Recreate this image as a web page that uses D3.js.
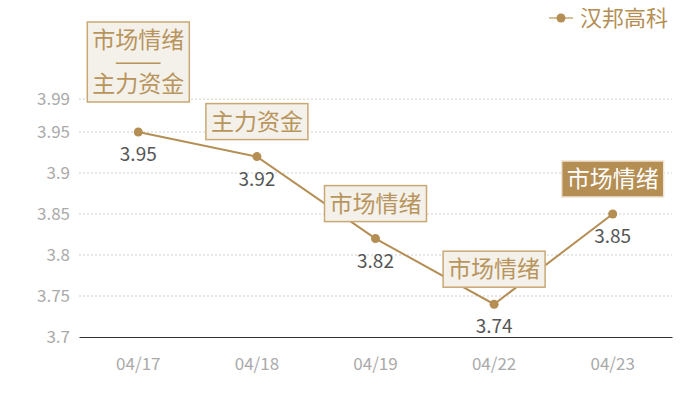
<!DOCTYPE html>
<html><head><meta charset="utf-8">
<script src="https://cdn.jsdelivr.net/npm/d3@7"></script>
<style>body{margin:0;background:#fff}svg{display:block;font-family:"Noto Sans CJK SC","Noto Sans",sans-serif}</style>
</head><body><svg id="c" width="700" height="400"></svg>
<script>
const dates = ["04/17","04/18","04/19","04/22","04/23"];
const values = [3.95,3.92,3.82,3.74,3.85];
const tags = [["市场情绪","—","主力资金"],["主力资金"],["市场情绪"],["市场情绪"],["市场情绪"]];
const tagFilled = [false,false,false,false,true];
const yTicks = [3.7,3.75,3.8,3.85,3.9,3.95,3.99];
const seriesName = "汉邦高科";

const gold = "#b58e54", boxStroke = "#c9a874", boxFill = "#f4f0ea", boxText = "#b8955c";
const svg = d3.select("#c");
const L = 79, R = 672, T = 99.2, B = 337;
const x = d3.scaleBand().domain(dates).range([L, R]);
const y = d3.scaleLinear().domain([3.7, 3.99]).range([B, T]);
const cx = d => x(d) + x.bandwidth()/2;

// grid
svg.append("g").selectAll("line").data(yTicks.filter(t => t > 3.7)).join("line")
  .attr("x1", L).attr("x2", R).attr("y1", d => y(d)).attr("y2", d => y(d))
  .attr("stroke", "#cfcfcf").attr("stroke-dasharray", "2,2");
// y axis labels
const ya = svg.append("g").attr("transform", `translate(${L},0)`)
  .call(d3.axisLeft(y).tickValues(yTicks).tickSize(0).tickPadding(9).tickFormat(d => String(d)));
ya.select(".domain").remove();
ya.selectAll("text").attr("fill", "#aaa").style("font-size", "17px").style("font-family", "'Noto Sans CJK SC'");
// x axis
const xa = svg.append("g").attr("transform", `translate(0,${B})`)
  .call(d3.axisBottom(x).tickSize(0).tickPadding(21));
xa.select(".domain").attr("stroke", "#333").attr("stroke-width", 1.2);
xa.selectAll("text").attr("fill", "#aaa").style("font-size", "17px").style("font-family", "'Noto Sans CJK SC'");

// line
const pts = dates.map((d,i) => ({d, v: values[i], i}));
svg.append("path").datum(pts)
  .attr("d", d3.line().x(p => cx(p.d)).y(p => y(p.v)))
  .attr("fill", "none").attr("stroke", gold).attr("stroke-width", 2);
svg.append("g").selectAll("circle").data(pts).join("circle")
  .attr("cx", p => cx(p.d)).attr("cy", p => y(p.v)).attr("r", 4.5).attr("fill", gold);
// value labels
svg.append("g").selectAll("text").data(pts).join("text")
  .attr("x", p => cx(p.d)).attr("y", p => y(p.v) + 29)
  .attr("text-anchor", "middle").attr("fill", "#555").style("font-size", "19px")
  .text(p => p.v.toFixed(2));

// tags
const lineH = 22, fs = 23, bw = 102;
pts.forEach(p => {
  const lines = tags[p.i];
  const h = lines.length * lineH + 14;
  const bottom = y(p.v) - (lines.length > 1 ? 30 : 17);
  const top = bottom - h;
  const g = svg.append("g");
  g.append("rect").attr("x", cx(p.d) - bw/2).attr("y", top).attr("width", bw).attr("height", h)
    .attr("fill", tagFilled[p.i] ? gold : boxFill)
    .attr("stroke", tagFilled[p.i] ? "#efe4d2" : boxStroke).attr("stroke-width", 1.5);
  lines.forEach((t, k) => {
    const isSep = t === "—";
    const tx = g.append("text").attr("x", cx(p.d)).attr("y", top + 7 + lineH*k + lineH/2)
      .attr("dy", "0.36em").attr("text-anchor", "middle")
      .attr("fill", tagFilled[p.i] ? "#fff" : boxText)
      .style("font-size", (isSep ? 17 : fs) + "px")
      .text(t);
    if (isSep) tx.attr("textLength", 50).attr("lengthAdjust", "spacingAndGlyphs").style("font-weight", 700);
  });
});

// legend
const lg = svg.append("g");
lg.append("line").attr("x1", 549).attr("x2", 573).attr("y1", 18).attr("y2", 18).attr("stroke", "#d6bf98").attr("stroke-width", 2);
lg.append("circle").attr("cx", 561).attr("cy", 18).attr("r", 4.5).attr("fill", gold);
lg.append("text").attr("x", 580).attr("y", 18).attr("dy", "0.36em").attr("fill", gold).style("font-size", "22px").text(seriesName);
</script></body></html>
